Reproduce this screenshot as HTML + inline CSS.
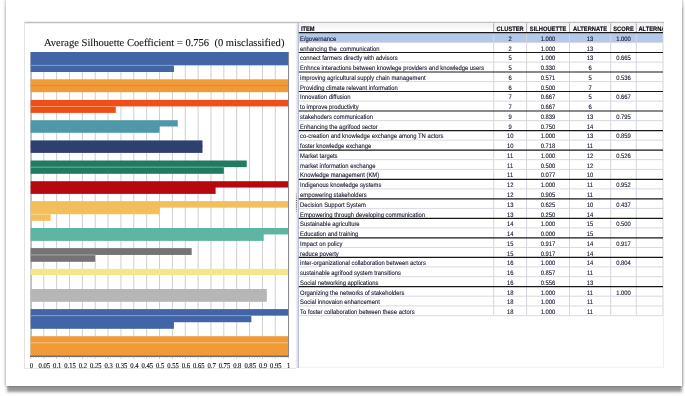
<!DOCTYPE html>
<html lang="en">
<head>
<meta charset="utf-8">
<title>Average Silhouette Coefficient</title>
<style>
html,body{margin:0;padding:0;}
body{width:685px;height:396px;background:#fefefe;overflow:hidden;position:relative;font-family:"Liberation Sans",sans-serif;}
#sheet{position:absolute;left:6px;top:0;width:676px;height:386px;background:#fff;box-shadow:0 6.2px 2.5px -0.5px rgba(0,0,0,.40),-1px 0 2.5px rgba(0,0,0,.22),1px 0 2.5px rgba(0,0,0,.22);}
#art{position:absolute;left:0;top:0;width:685px;height:396px;}
.t{font-family:"Liberation Sans",sans-serif;font-size:6.5px;fill:#10102a;stroke:#10102a;stroke-width:0.1px;}
.h{font-family:"Liberation Sans",sans-serif;font-size:6.4px;font-weight:bold;fill:#0c0c14;stroke:#0c0c14;stroke-width:0.15px;}
.c{text-anchor:middle;}
text{text-rendering:geometricPrecision;}
.ax{font-family:"Liberation Serif",serif;font-size:7.5px;fill:#0a0a0a;text-anchor:middle;stroke:#0a0a0a;stroke-width:0.12px;}
.ttl{font-family:"Liberation Serif",serif;font-size:10.55px;fill:#111;stroke:#111;stroke-width:0.1px;}
</style>
</head>
<body>
<div id="sheet"></div>
<svg id="art" width="685" height="396" viewBox="0 0 685 396">

<g id="frame" fill="none">
<line x1="24" y1="22.5" x2="664" y2="22.5" stroke="#c0c0c0" stroke-width="1.6"/>
<line x1="24.5" y1="22" x2="24.5" y2="368" stroke="#e2e2e2" stroke-width="1"/>
<line x1="24" y1="368.4" x2="296" y2="368.4" stroke="#e6e6e6" stroke-width="1"/>
</g>
<g id="chart">
<text class="ttl" x="43.95" y="45.7" xml:space="preserve">Average Silhouette Coefficient = 0.756  (0 misclassified)</text>
<g stroke="#cfcfcf" stroke-width="1">
<line x1="43.76" y1="52.0" x2="43.76" y2="356.0"/>
<line x1="56.62" y1="52.0" x2="56.62" y2="356.0"/>
<line x1="69.49" y1="52.0" x2="69.49" y2="356.0"/>
<line x1="82.35" y1="52.0" x2="82.35" y2="356.0"/>
<line x1="95.21" y1="52.0" x2="95.21" y2="356.0"/>
<line x1="108.07" y1="52.0" x2="108.07" y2="356.0"/>
<line x1="120.94" y1="52.0" x2="120.94" y2="356.0"/>
<line x1="133.80" y1="52.0" x2="133.80" y2="356.0"/>
<line x1="146.66" y1="52.0" x2="146.66" y2="356.0"/>
<line x1="159.53" y1="52.0" x2="159.53" y2="356.0"/>
<line x1="172.39" y1="52.0" x2="172.39" y2="356.0"/>
<line x1="185.25" y1="52.0" x2="185.25" y2="356.0"/>
<line x1="198.11" y1="52.0" x2="198.11" y2="356.0"/>
<line x1="210.97" y1="52.0" x2="210.97" y2="356.0"/>
<line x1="223.84" y1="52.0" x2="223.84" y2="356.0"/>
<line x1="236.70" y1="52.0" x2="236.70" y2="356.0"/>
<line x1="249.56" y1="52.0" x2="249.56" y2="356.0"/>
<line x1="262.43" y1="52.0" x2="262.43" y2="356.0"/>
<line x1="275.29" y1="52.0" x2="275.29" y2="356.0"/>
</g>
<line x1="31.049999999999997" y1="52.0" x2="31.049999999999997" y2="356.5" stroke="#8a8a8a" stroke-width="1"/>
<g id="bars">
<rect x="30.65" y="52.00" width="257.50" height="6.67" fill="#4165a7"/>
<rect x="30.65" y="57.67" width="257.50" height="7.67" fill="#4165a7"/>
<rect x="30.65" y="64.33" width="143.28" height="7.67" fill="#4165a7"/>
<rect x="30.9" y="64.88" width="143.03" height="0.9" fill="#fff" fill-opacity="0.42"/>
<rect x="30.65" y="79.30" width="257.50" height="6.45" fill="#f19b38"/>
<rect x="30.65" y="84.75" width="257.50" height="7.45" fill="#f19b38"/>
<rect x="30.9" y="85.25" width="257.25" height="1" fill="#ee7f2a"/>
<rect x="30.65" y="99.90" width="257.50" height="6.50" fill="#ee4f17"/>
<rect x="30.65" y="105.40" width="85.14" height="7.50" fill="#ee4f17"/>
<rect x="30.9" y="105.95" width="84.89" height="0.9" fill="#fff" fill-opacity="0.42"/>
<rect x="30.65" y="120.20" width="147.14" height="6.30" fill="#4f98a9"/>
<rect x="30.65" y="125.50" width="128.88" height="7.30" fill="#4f98a9"/>
<rect x="30.65" y="140.40" width="171.84" height="6.25" fill="#2e406f"/>
<rect x="30.65" y="145.65" width="171.84" height="7.25" fill="#2e406f"/>
<rect x="30.65" y="160.50" width="216.08" height="6.65" fill="#1f7c63"/>
<rect x="30.65" y="166.15" width="193.19" height="7.65" fill="#1f7c63"/>
<rect x="30.9" y="166.70" width="192.94" height="0.9" fill="#fff" fill-opacity="0.42"/>
<rect x="30.65" y="181.20" width="257.50" height="6.35" fill="#b5080f"/>
<rect x="30.65" y="186.55" width="184.96" height="7.35" fill="#b5080f"/>
<rect x="30.65" y="201.10" width="257.50" height="6.57" fill="#f2bf5c"/>
<rect x="30.65" y="206.67" width="128.88" height="7.57" fill="#f2bf5c"/>
<rect x="30.65" y="213.23" width="20.06" height="7.57" fill="#f2bf5c"/>
<rect x="30.9" y="213.78" width="19.81" height="0.9" fill="#fff" fill-opacity="0.42"/>
<rect x="30.65" y="228.00" width="257.50" height="6.45" fill="#5db6a1"/>
<rect x="30.65" y="233.45" width="233.06" height="7.45" fill="#5db6a1"/>
<rect x="30.65" y="248.10" width="161.03" height="6.85" fill="#747474"/>
<rect x="30.65" y="253.95" width="64.56" height="7.85" fill="#747474"/>
<rect x="30.9" y="254.50" width="64.31" height="0.9" fill="#fff" fill-opacity="0.42"/>
<rect x="30.65" y="268.80" width="257.50" height="6.30" fill="#f3e78d"/>
<rect x="30.65" y="289.00" width="236.15" height="6.40" fill="#b6b6b6"/>
<rect x="30.65" y="294.40" width="236.15" height="7.40" fill="#b6b6b6"/>
<rect x="30.65" y="309.10" width="257.50" height="6.57" fill="#4165a7"/>
<rect x="30.65" y="314.67" width="220.71" height="7.57" fill="#4165a7"/>
<rect x="30.65" y="321.23" width="143.28" height="7.57" fill="#4165a7"/>
<rect x="30.9" y="315.22" width="220.46" height="0.9" fill="#fff" fill-opacity="0.42"/>
<rect x="30.65" y="336.20" width="257.50" height="6.60" fill="#f19b38"/>
<rect x="30.65" y="341.80" width="257.50" height="7.60" fill="#f19b38"/>
<rect x="30.65" y="348.40" width="257.50" height="7.60" fill="#f19b38"/>
<rect x="30.9" y="342.35" width="257.25" height="0.9" fill="#fff" fill-opacity="0.42"/>
</g>
<line x1="288.54999999999995" y1="52.0" x2="288.54999999999995" y2="356.5" stroke="#858585" stroke-width="1"/>
<line x1="30.099999999999998" y1="356.2" x2="288.65" y2="356.2" stroke="#383838" stroke-width="1.1"/>
<g stroke="#9a9a9a" stroke-width="0.6">
<line x1="30.90" y1="356.6" x2="30.90" y2="358.8"/>
<line x1="33.47" y1="356.6" x2="33.47" y2="357.8"/>
<line x1="36.05" y1="356.6" x2="36.05" y2="357.8"/>
<line x1="38.62" y1="356.6" x2="38.62" y2="357.8"/>
<line x1="41.19" y1="356.6" x2="41.19" y2="357.8"/>
<line x1="43.76" y1="356.6" x2="43.76" y2="358.8"/>
<line x1="46.34" y1="356.6" x2="46.34" y2="357.8"/>
<line x1="48.91" y1="356.6" x2="48.91" y2="357.8"/>
<line x1="51.48" y1="356.6" x2="51.48" y2="357.8"/>
<line x1="54.05" y1="356.6" x2="54.05" y2="357.8"/>
<line x1="56.62" y1="356.6" x2="56.62" y2="358.8"/>
<line x1="59.20" y1="356.6" x2="59.20" y2="357.8"/>
<line x1="61.77" y1="356.6" x2="61.77" y2="357.8"/>
<line x1="64.34" y1="356.6" x2="64.34" y2="357.8"/>
<line x1="66.91" y1="356.6" x2="66.91" y2="357.8"/>
<line x1="69.49" y1="356.6" x2="69.49" y2="358.8"/>
<line x1="72.06" y1="356.6" x2="72.06" y2="357.8"/>
<line x1="74.63" y1="356.6" x2="74.63" y2="357.8"/>
<line x1="77.20" y1="356.6" x2="77.20" y2="357.8"/>
<line x1="79.78" y1="356.6" x2="79.78" y2="357.8"/>
<line x1="82.35" y1="356.6" x2="82.35" y2="358.8"/>
<line x1="84.92" y1="356.6" x2="84.92" y2="357.8"/>
<line x1="87.50" y1="356.6" x2="87.50" y2="357.8"/>
<line x1="90.07" y1="356.6" x2="90.07" y2="357.8"/>
<line x1="92.64" y1="356.6" x2="92.64" y2="357.8"/>
<line x1="95.21" y1="356.6" x2="95.21" y2="358.8"/>
<line x1="97.78" y1="356.6" x2="97.78" y2="357.8"/>
<line x1="100.36" y1="356.6" x2="100.36" y2="357.8"/>
<line x1="102.93" y1="356.6" x2="102.93" y2="357.8"/>
<line x1="105.50" y1="356.6" x2="105.50" y2="357.8"/>
<line x1="108.07" y1="356.6" x2="108.07" y2="358.8"/>
<line x1="110.65" y1="356.6" x2="110.65" y2="357.8"/>
<line x1="113.22" y1="356.6" x2="113.22" y2="357.8"/>
<line x1="115.79" y1="356.6" x2="115.79" y2="357.8"/>
<line x1="118.37" y1="356.6" x2="118.37" y2="357.8"/>
<line x1="120.94" y1="356.6" x2="120.94" y2="358.8"/>
<line x1="123.51" y1="356.6" x2="123.51" y2="357.8"/>
<line x1="126.08" y1="356.6" x2="126.08" y2="357.8"/>
<line x1="128.66" y1="356.6" x2="128.66" y2="357.8"/>
<line x1="131.23" y1="356.6" x2="131.23" y2="357.8"/>
<line x1="133.80" y1="356.6" x2="133.80" y2="358.8"/>
<line x1="136.37" y1="356.6" x2="136.37" y2="357.8"/>
<line x1="138.94" y1="356.6" x2="138.94" y2="357.8"/>
<line x1="141.52" y1="356.6" x2="141.52" y2="357.8"/>
<line x1="144.09" y1="356.6" x2="144.09" y2="357.8"/>
<line x1="146.66" y1="356.6" x2="146.66" y2="358.8"/>
<line x1="149.23" y1="356.6" x2="149.23" y2="357.8"/>
<line x1="151.81" y1="356.6" x2="151.81" y2="357.8"/>
<line x1="154.38" y1="356.6" x2="154.38" y2="357.8"/>
<line x1="156.95" y1="356.6" x2="156.95" y2="357.8"/>
<line x1="159.53" y1="356.6" x2="159.53" y2="358.8"/>
<line x1="162.10" y1="356.6" x2="162.10" y2="357.8"/>
<line x1="164.67" y1="356.6" x2="164.67" y2="357.8"/>
<line x1="167.24" y1="356.6" x2="167.24" y2="357.8"/>
<line x1="169.81" y1="356.6" x2="169.81" y2="357.8"/>
<line x1="172.39" y1="356.6" x2="172.39" y2="358.8"/>
<line x1="174.96" y1="356.6" x2="174.96" y2="357.8"/>
<line x1="177.53" y1="356.6" x2="177.53" y2="357.8"/>
<line x1="180.11" y1="356.6" x2="180.11" y2="357.8"/>
<line x1="182.68" y1="356.6" x2="182.68" y2="357.8"/>
<line x1="185.25" y1="356.6" x2="185.25" y2="358.8"/>
<line x1="187.82" y1="356.6" x2="187.82" y2="357.8"/>
<line x1="190.40" y1="356.6" x2="190.40" y2="357.8"/>
<line x1="192.97" y1="356.6" x2="192.97" y2="357.8"/>
<line x1="195.54" y1="356.6" x2="195.54" y2="357.8"/>
<line x1="198.11" y1="356.6" x2="198.11" y2="358.8"/>
<line x1="200.69" y1="356.6" x2="200.69" y2="357.8"/>
<line x1="203.26" y1="356.6" x2="203.26" y2="357.8"/>
<line x1="205.83" y1="356.6" x2="205.83" y2="357.8"/>
<line x1="208.40" y1="356.6" x2="208.40" y2="357.8"/>
<line x1="210.97" y1="356.6" x2="210.97" y2="358.8"/>
<line x1="213.55" y1="356.6" x2="213.55" y2="357.8"/>
<line x1="216.12" y1="356.6" x2="216.12" y2="357.8"/>
<line x1="218.69" y1="356.6" x2="218.69" y2="357.8"/>
<line x1="221.27" y1="356.6" x2="221.27" y2="357.8"/>
<line x1="223.84" y1="356.6" x2="223.84" y2="358.8"/>
<line x1="226.41" y1="356.6" x2="226.41" y2="357.8"/>
<line x1="228.98" y1="356.6" x2="228.98" y2="357.8"/>
<line x1="231.56" y1="356.6" x2="231.56" y2="357.8"/>
<line x1="234.13" y1="356.6" x2="234.13" y2="357.8"/>
<line x1="236.70" y1="356.6" x2="236.70" y2="358.8"/>
<line x1="239.27" y1="356.6" x2="239.27" y2="357.8"/>
<line x1="241.84" y1="356.6" x2="241.84" y2="357.8"/>
<line x1="244.42" y1="356.6" x2="244.42" y2="357.8"/>
<line x1="246.99" y1="356.6" x2="246.99" y2="357.8"/>
<line x1="249.56" y1="356.6" x2="249.56" y2="358.8"/>
<line x1="252.14" y1="356.6" x2="252.14" y2="357.8"/>
<line x1="254.71" y1="356.6" x2="254.71" y2="357.8"/>
<line x1="257.28" y1="356.6" x2="257.28" y2="357.8"/>
<line x1="259.85" y1="356.6" x2="259.85" y2="357.8"/>
<line x1="262.43" y1="356.6" x2="262.43" y2="358.8"/>
<line x1="265.00" y1="356.6" x2="265.00" y2="357.8"/>
<line x1="267.57" y1="356.6" x2="267.57" y2="357.8"/>
<line x1="270.14" y1="356.6" x2="270.14" y2="357.8"/>
<line x1="272.71" y1="356.6" x2="272.71" y2="357.8"/>
<line x1="275.29" y1="356.6" x2="275.29" y2="358.8"/>
<line x1="277.86" y1="356.6" x2="277.86" y2="357.8"/>
<line x1="280.43" y1="356.6" x2="280.43" y2="357.8"/>
<line x1="283.00" y1="356.6" x2="283.00" y2="357.8"/>
<line x1="285.58" y1="356.6" x2="285.58" y2="357.8"/>
<line x1="288.15" y1="356.6" x2="288.15" y2="358.8"/>
</g>
<g transform="scale(0.88,1)">
<text class="ax" x="35.80" y="367.6">0</text>
<text class="ax" x="50.41" y="367.6">0.05</text>
<text class="ax" x="65.03" y="367.6">0.1</text>
<text class="ax" x="79.64" y="367.6">0.15</text>
<text class="ax" x="94.26" y="367.6">0.2</text>
<text class="ax" x="108.88" y="367.6">0.25</text>
<text class="ax" x="123.49" y="367.6">0.3</text>
<text class="ax" x="138.11" y="367.6">0.35</text>
<text class="ax" x="152.73" y="367.6">0.4</text>
<text class="ax" x="167.34" y="367.6">0.45</text>
<text class="ax" x="181.96" y="367.6">0.5</text>
<text class="ax" x="196.58" y="367.6">0.55</text>
<text class="ax" x="211.19" y="367.6">0.6</text>
<text class="ax" x="225.81" y="367.6">0.65</text>
<text class="ax" x="240.43" y="367.6">0.7</text>
<text class="ax" x="255.04" y="367.6">0.75</text>
<text class="ax" x="269.66" y="367.6">0.8</text>
<text class="ax" x="284.28" y="367.6">0.85</text>
<text class="ax" x="298.89" y="367.6">0.9</text>
<text class="ax" x="313.51" y="367.6">0.95</text>
<text class="ax" x="328.12" y="367.6">1</text>
</g>
</g>
<defs><linearGradient id="sg" x1="0" y1="0" x2="1" y2="0"><stop offset="0" stop-color="#f6f6f6"/><stop offset="1" stop-color="#d9dadd"/></linearGradient>
<linearGradient id="hg" x1="0" y1="0" x2="0" y2="1"><stop offset="0" stop-color="#f0f0f0"/><stop offset="0.8" stop-color="#fdfdfd"/><stop offset="1" stop-color="#ffffff"/></linearGradient>
<clipPath id="hc"><rect x="636.8" y="23" width="26" height="9"/></clipPath></defs>
<g id="splitter">
<rect x="295.6" y="23" width="2.5" height="345" fill="url(#sg)"/>
<rect x="295.9" y="193.4" width="0.9" height="1" fill="#333" fill-opacity="0.45"/>
<rect x="295.9" y="195.6" width="0.9" height="1" fill="#333" fill-opacity="0.7"/>
<rect x="295.9" y="197.8" width="0.9" height="1" fill="#333" fill-opacity="0.9"/>
<rect x="295.9" y="200.0" width="0.9" height="1" fill="#333" fill-opacity="1"/>
<rect x="295.9" y="202.2" width="0.9" height="1" fill="#333" fill-opacity="1"/>
<rect x="295.9" y="204.4" width="0.9" height="1" fill="#333" fill-opacity="1"/>
<rect x="295.9" y="206.6" width="0.9" height="1" fill="#333" fill-opacity="0.9"/>
<rect x="295.9" y="208.8" width="0.9" height="1" fill="#333" fill-opacity="0.7"/>
<rect x="295.9" y="211.0" width="0.9" height="1" fill="#333" fill-opacity="0.45"/>
</g>
<g id="table">
<rect x="298.8" y="23" width="364.2" height="345" fill="#fff"/>
<rect x="298.8" y="23.2" width="364.2" height="9" fill="url(#hg)"/>
<rect x="299.1" y="33.15" width="363.9" height="9.20" fill="#b4c8e9"/>
<g stroke="#d3d6dc" stroke-width="1">
<line x1="493.7" y1="32" x2="493.7" y2="315.69"/>
<line x1="493.7" y1="23.3" x2="493.7" y2="32.3" stroke="#adadad"/>
<line x1="526.6" y1="32" x2="526.6" y2="315.69"/>
<line x1="526.6" y1="23.3" x2="526.6" y2="32.3" stroke="#adadad"/>
<line x1="569.5" y1="32" x2="569.5" y2="315.69"/>
<line x1="569.5" y1="23.3" x2="569.5" y2="32.3" stroke="#adadad"/>
<line x1="610.7" y1="32" x2="610.7" y2="315.69"/>
<line x1="610.7" y1="23.3" x2="610.7" y2="32.3" stroke="#adadad"/>
<line x1="636.3" y1="32" x2="636.3" y2="315.69"/>
<line x1="636.3" y1="23.3" x2="636.3" y2="32.3" stroke="#adadad"/>
<line x1="663.0" y1="23" x2="663.0" y2="315.69"/>
<line x1="663.5" y1="315.69" x2="663.5" y2="367.5" stroke="#eeeeee"/>
<line x1="298.8" y1="367.2" x2="664.0" y2="367.2" stroke="#f0f0f0"/>
</g>
<line x1="298.45" y1="23" x2="298.45" y2="368" stroke="#aab6cf" stroke-width="0.9"/>
<line x1="298.8" y1="32.65" x2="663.0" y2="32.65" stroke="#171717" stroke-width="1.2"/>
<line x1="298.8" y1="42.60" x2="663.0" y2="42.60" stroke="#d6d9e0" stroke-width="1"/>
<line x1="298.8" y1="52.51" x2="663.0" y2="52.51" stroke="#171717" stroke-width="1.2"/>
<line x1="298.8" y1="62.11" x2="663.0" y2="62.11" stroke="#d6d9e0" stroke-width="1"/>
<line x1="298.8" y1="72.01" x2="663.0" y2="72.01" stroke="#171717" stroke-width="1.2"/>
<line x1="298.8" y1="81.62" x2="663.0" y2="81.62" stroke="#d6d9e0" stroke-width="1"/>
<line x1="298.8" y1="91.52" x2="663.0" y2="91.52" stroke="#171717" stroke-width="1.2"/>
<line x1="298.8" y1="101.12" x2="663.0" y2="101.12" stroke="#d6d9e0" stroke-width="1"/>
<line x1="298.8" y1="111.02" x2="663.0" y2="111.02" stroke="#171717" stroke-width="1.2"/>
<line x1="298.8" y1="120.63" x2="663.0" y2="120.63" stroke="#d6d9e0" stroke-width="1"/>
<line x1="298.8" y1="130.53" x2="663.0" y2="130.53" stroke="#171717" stroke-width="1.2"/>
<line x1="298.8" y1="140.13" x2="663.0" y2="140.13" stroke="#d6d9e0" stroke-width="1"/>
<line x1="298.8" y1="150.04" x2="663.0" y2="150.04" stroke="#171717" stroke-width="1.2"/>
<line x1="298.8" y1="159.64" x2="663.0" y2="159.64" stroke="#d6d9e0" stroke-width="1"/>
<line x1="298.8" y1="169.39" x2="663.0" y2="169.39" stroke="#d6d9e0" stroke-width="1"/>
<line x1="298.8" y1="179.30" x2="663.0" y2="179.30" stroke="#171717" stroke-width="1.2"/>
<line x1="298.8" y1="188.90" x2="663.0" y2="188.90" stroke="#d6d9e0" stroke-width="1"/>
<line x1="298.8" y1="198.80" x2="663.0" y2="198.80" stroke="#171717" stroke-width="1.2"/>
<line x1="298.8" y1="208.40" x2="663.0" y2="208.40" stroke="#d6d9e0" stroke-width="1"/>
<line x1="298.8" y1="218.31" x2="663.0" y2="218.31" stroke="#171717" stroke-width="1.2"/>
<line x1="298.8" y1="227.91" x2="663.0" y2="227.91" stroke="#d6d9e0" stroke-width="1"/>
<line x1="298.8" y1="237.81" x2="663.0" y2="237.81" stroke="#171717" stroke-width="1.2"/>
<line x1="298.8" y1="247.42" x2="663.0" y2="247.42" stroke="#d6d9e0" stroke-width="1"/>
<line x1="298.8" y1="257.32" x2="663.0" y2="257.32" stroke="#171717" stroke-width="1.2"/>
<line x1="298.8" y1="266.92" x2="663.0" y2="266.92" stroke="#d6d9e0" stroke-width="1"/>
<line x1="298.8" y1="276.68" x2="663.0" y2="276.68" stroke="#d6d9e0" stroke-width="1"/>
<line x1="298.8" y1="286.58" x2="663.0" y2="286.58" stroke="#171717" stroke-width="1.2"/>
<line x1="298.8" y1="296.18" x2="663.0" y2="296.18" stroke="#d6d9e0" stroke-width="1"/>
<line x1="298.8" y1="305.93" x2="663.0" y2="305.93" stroke="#d6d9e0" stroke-width="1"/>
<line x1="298.8" y1="315.69" x2="663.0" y2="315.69" stroke="#d6d9e0" stroke-width="1"/>
<g transform="scale(0.9,1)">
<text class="h" x="334.33" y="30.9">ITEM</text>
<text class="h c" x="566.83" y="30.9">CLUSTER</text>
<text class="h c" x="608.94" y="30.9">SILHOUETTE</text>
<text class="h c" x="655.67" y="30.9">ALTERNATE</text>
<text class="h c" x="692.78" y="30.9">SCORE</text>
</g><g clip-path="url(#hc)"><text class="h" transform="scale(0.9,1)" x="709.33" y="30.9">ALTERNATE</text></g><g transform="scale(0.9,1)">
<text class="t" x="333.44" y="40.85" xml:space="preserve">E/governance</text>
<text class="t c" x="566.83" y="40.85">2</text>
<text class="t c" x="608.94" y="40.85">1.000</text>
<text class="t c" x="655.67" y="40.85">13</text>
<text class="t c" x="692.78" y="40.85">1.000</text>
<text class="t" x="333.44" y="50.61" xml:space="preserve">enhancing the  communication</text>
<text class="t c" x="566.83" y="50.61">2</text>
<text class="t c" x="608.94" y="50.61">1.000</text>
<text class="t c" x="655.67" y="50.61">13</text>
<text class="t" x="333.44" y="60.37" xml:space="preserve">connect farmers directly with advisors</text>
<text class="t c" x="566.83" y="60.37">5</text>
<text class="t c" x="608.94" y="60.37">1.000</text>
<text class="t c" x="655.67" y="60.37">13</text>
<text class="t c" x="692.78" y="60.37">0.665</text>
<text class="t" x="333.44" y="70.13" xml:space="preserve">Enhnce interactions between knowlege providers and knowledge users</text>
<text class="t c" x="566.83" y="70.13">5</text>
<text class="t c" x="608.94" y="70.13">0.330</text>
<text class="t c" x="655.67" y="70.13">6</text>
<text class="t" x="333.44" y="79.89" xml:space="preserve">improving agricultural supply chain management</text>
<text class="t c" x="566.83" y="79.89">6</text>
<text class="t c" x="608.94" y="79.89">0.571</text>
<text class="t c" x="655.67" y="79.89">5</text>
<text class="t c" x="692.78" y="79.89">0.536</text>
<text class="t" x="333.44" y="89.65" xml:space="preserve">Providing climate relevant information</text>
<text class="t c" x="566.83" y="89.65">6</text>
<text class="t c" x="608.94" y="89.65">0.500</text>
<text class="t c" x="655.67" y="89.65">7</text>
<text class="t" x="333.44" y="99.41" xml:space="preserve">Innovation diffusion</text>
<text class="t c" x="566.83" y="99.41">7</text>
<text class="t c" x="608.94" y="99.41">0.667</text>
<text class="t c" x="655.67" y="99.41">5</text>
<text class="t c" x="692.78" y="99.41">0.667</text>
<text class="t" x="333.44" y="109.17" xml:space="preserve">to improve productivity</text>
<text class="t c" x="566.83" y="109.17">7</text>
<text class="t c" x="608.94" y="109.17">0.667</text>
<text class="t c" x="655.67" y="109.17">6</text>
<text class="t" x="333.44" y="118.93" xml:space="preserve">stakehoders communication</text>
<text class="t c" x="566.83" y="118.93">9</text>
<text class="t c" x="608.94" y="118.93">0.839</text>
<text class="t c" x="655.67" y="118.93">13</text>
<text class="t c" x="692.78" y="118.93">0.795</text>
<text class="t" x="333.44" y="128.69" xml:space="preserve">Enhancing the agrifood sector</text>
<text class="t c" x="566.83" y="128.69">9</text>
<text class="t c" x="608.94" y="128.69">0.750</text>
<text class="t c" x="655.67" y="128.69">14</text>
<text class="t" x="333.44" y="138.45" xml:space="preserve">co-creation and knowledge exchange among TN actors</text>
<text class="t c" x="566.83" y="138.45">10</text>
<text class="t c" x="608.94" y="138.45">1.000</text>
<text class="t c" x="655.67" y="138.45">13</text>
<text class="t c" x="692.78" y="138.45">0.859</text>
<text class="t" x="333.44" y="148.21" xml:space="preserve">foster knowledge exchange</text>
<text class="t c" x="566.83" y="148.21">10</text>
<text class="t c" x="608.94" y="148.21">0.718</text>
<text class="t c" x="655.67" y="148.21">11</text>
<text class="t" x="333.44" y="157.97" xml:space="preserve">Market targets</text>
<text class="t c" x="566.83" y="157.97">11</text>
<text class="t c" x="608.94" y="157.97">1.000</text>
<text class="t c" x="655.67" y="157.97">12</text>
<text class="t c" x="692.78" y="157.97">0.526</text>
<text class="t" x="333.44" y="167.73" xml:space="preserve">market information exchange</text>
<text class="t c" x="566.83" y="167.73">11</text>
<text class="t c" x="608.94" y="167.73">0.500</text>
<text class="t c" x="655.67" y="167.73">12</text>
<text class="t" x="333.44" y="177.49" xml:space="preserve">Knowledge management (KM)</text>
<text class="t c" x="566.83" y="177.49">11</text>
<text class="t c" x="608.94" y="177.49">0.077</text>
<text class="t c" x="655.67" y="177.49">10</text>
<text class="t" x="333.44" y="187.25" xml:space="preserve">Indigenous knowledge systems</text>
<text class="t c" x="566.83" y="187.25">12</text>
<text class="t c" x="608.94" y="187.25">1.000</text>
<text class="t c" x="655.67" y="187.25">11</text>
<text class="t c" x="692.78" y="187.25">0.952</text>
<text class="t" x="333.44" y="197.01" xml:space="preserve">empowering stakeholders</text>
<text class="t c" x="566.83" y="197.01">12</text>
<text class="t c" x="608.94" y="197.01">0.905</text>
<text class="t c" x="655.67" y="197.01">11</text>
<text class="t" x="333.44" y="206.77" xml:space="preserve">Decision Support System</text>
<text class="t c" x="566.83" y="206.77">13</text>
<text class="t c" x="608.94" y="206.77">0.625</text>
<text class="t c" x="655.67" y="206.77">10</text>
<text class="t c" x="692.78" y="206.77">0.437</text>
<text class="t" x="333.44" y="216.53" xml:space="preserve">Empowering through developing communication</text>
<text class="t c" x="566.83" y="216.53">13</text>
<text class="t c" x="608.94" y="216.53">0.250</text>
<text class="t c" x="655.67" y="216.53">14</text>
<text class="t" x="333.44" y="226.29" xml:space="preserve">Sustainable agriculture</text>
<text class="t c" x="566.83" y="226.29">14</text>
<text class="t c" x="608.94" y="226.29">1.000</text>
<text class="t c" x="655.67" y="226.29">15</text>
<text class="t c" x="692.78" y="226.29">0.500</text>
<text class="t" x="333.44" y="236.05" xml:space="preserve">Education and training</text>
<text class="t c" x="566.83" y="236.05">14</text>
<text class="t c" x="608.94" y="236.05">0.000</text>
<text class="t c" x="655.67" y="236.05">15</text>
<text class="t" x="333.44" y="245.81" xml:space="preserve">Impact on policy</text>
<text class="t c" x="566.83" y="245.81">15</text>
<text class="t c" x="608.94" y="245.81">0.917</text>
<text class="t c" x="655.67" y="245.81">14</text>
<text class="t c" x="692.78" y="245.81">0.917</text>
<text class="t" x="333.44" y="255.57" xml:space="preserve">reduce poverty</text>
<text class="t c" x="566.83" y="255.57">15</text>
<text class="t c" x="608.94" y="255.57">0.917</text>
<text class="t c" x="655.67" y="255.57">14</text>
<text class="t" x="333.44" y="265.33" xml:space="preserve">inter-organizational collaboration between actors</text>
<text class="t c" x="566.83" y="265.33">16</text>
<text class="t c" x="608.94" y="265.33">1.000</text>
<text class="t c" x="655.67" y="265.33">14</text>
<text class="t c" x="692.78" y="265.33">0.804</text>
<text class="t" x="333.44" y="275.09" xml:space="preserve">sustainable agrifood system transitions</text>
<text class="t c" x="566.83" y="275.09">16</text>
<text class="t c" x="608.94" y="275.09">0.857</text>
<text class="t c" x="655.67" y="275.09">11</text>
<text class="t" x="333.44" y="284.85" xml:space="preserve">Social networking applications</text>
<text class="t c" x="566.83" y="284.85">16</text>
<text class="t c" x="608.94" y="284.85">0.556</text>
<text class="t c" x="655.67" y="284.85">13</text>
<text class="t" x="333.44" y="294.61" xml:space="preserve">Organizing the networks of stakeholders</text>
<text class="t c" x="566.83" y="294.61">18</text>
<text class="t c" x="608.94" y="294.61">1.000</text>
<text class="t c" x="655.67" y="294.61">11</text>
<text class="t c" x="692.78" y="294.61">1.000</text>
<text class="t" x="333.44" y="304.37" xml:space="preserve">Social innovaion enhancement</text>
<text class="t c" x="566.83" y="304.37">18</text>
<text class="t c" x="608.94" y="304.37">1.000</text>
<text class="t c" x="655.67" y="304.37">11</text>
<text class="t" x="333.44" y="314.13" xml:space="preserve">To foster collaboration between these actors</text>
<text class="t c" x="566.83" y="314.13">18</text>
<text class="t c" x="608.94" y="314.13">1.000</text>
<text class="t c" x="655.67" y="314.13">11</text>
</g>
</g>
</svg>
</body>
</html>
